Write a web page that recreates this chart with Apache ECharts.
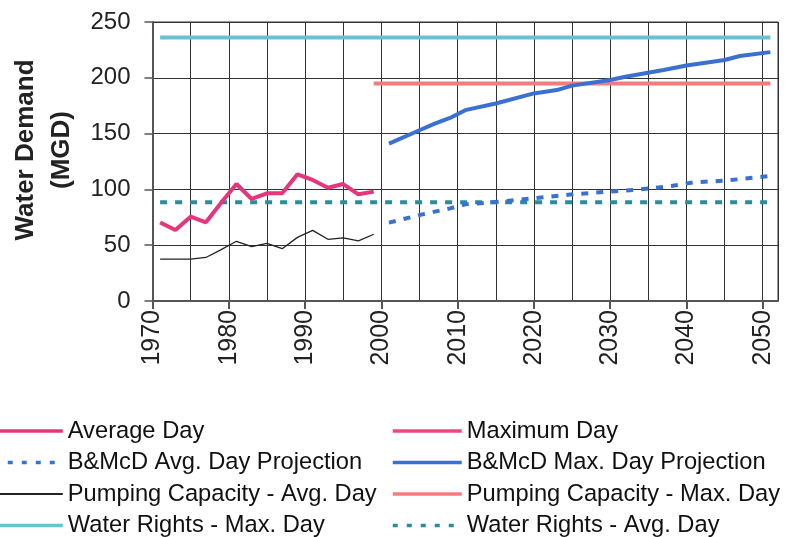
<!DOCTYPE html>
<html>
<head>
<meta charset="utf-8">
<title>Water Demand (MGD)</title>
<script src="https://cdn.jsdelivr.net/npm/echarts@6/dist/echarts.min.js"></script>
<style>
  html, body { margin: 0; padding: 0; background: #fff; }
  #chart { width: 786px; height: 537px; }
</style>
</head>
<body>
<div id="chart"></div>
<script>
// Historic records (odd years)
const histYears = [1971, 1973, 1975, 1977, 1979, 1981, 1983, 1985, 1987, 1989, 1991, 1993, 1995, 1997, 1999];
const averageDay = [70.3, 63.6, 75.5, 70.5, 88, 104.8, 91.4, 96.5, 96.5, 113.5, 108.5, 101.5, 104.8, 95.6, 98];
const pumpingAvgDay = [37.6, 37.6, 37.6, 39, 46, 53.5, 48.7, 51.7, 46.9, 57, 63.3, 55.3, 56.5, 53.8, 59.8];
const maximumDay = [];

// B&McD projections
const maxProjYears = [2001, 2005, 2007, 2009, 2011, 2015, 2020, 2023, 2025, 2030, 2032, 2037, 2040, 2045, 2047, 2051];
const maxDayProjection = [141, 153, 159, 164, 171, 177, 186, 189, 193, 198, 201, 207, 211, 216, 219.5, 223];
const avgProjYears = [2001, 2005, 2009, 2011, 2013, 2020, 2025, 2030, 2034, 2038, 2041, 2045, 2051];
const avgDayProjection = [70.2, 77, 83, 86.6, 87.5, 92, 95.6, 98, 100, 103, 106.4, 107.8, 112];

// Capacity and rights limits
const pumpingMaxDay = { from: 1999, to: 2051, value: 195 };
const rightsMaxDay = { from: 1971, to: 2051, value: 236 };
const rightsAvgDay = { from: 1971, to: 2051, value: 88.5 };

// Axis ticks
const yearTicks = [1970, 1980, 1990, 2000, 2010, 2020, 2030, 2040, 2050];
const demandTicks = [0, 50, 100, 150, 200, 250];

// Legend columns
const legendLeft = ['Average Day', 'B&McD Avg. Day Projection', 'Pumping Capacity - Avg. Day', 'Water Rights - Max. Day'];
const legendRight = ['Maximum Day', 'B&McD Max. Day Projection', 'Pumping Capacity - Max. Day', 'Water Rights - Avg. Day'];

const pairs = (xs, ys) => xs.map((x, i) => [x, ys[i]]);
const flat = (l) => [[l.from, l.value], [l.to, l.value]];

const FONT = 'Liberation Sans, Arial, Helvetica, sans-serif';

const chart = echarts.init(document.getElementById('chart'), null, { renderer: 'canvas' });

const styles = {};
function line(name, data, color, width, dashed, z) {
  styles[name] = { width: width, dashed: dashed, color: color };
  return {
    name: name,
    type: 'line',
    data: data,
    xAxisIndex: 0,
    symbol: 'none',
    z: z,
    color: color,
    lineStyle: dashed
      ? { color: color, width: width, type: [7, 8], cap: 'butt' }
      : { color: color, width: width },
    emphasis: { disabled: true }
  };
}

const series = [
  line('Water Rights - Max. Day', flat(rightsMaxDay), '#6cc0cf', 4, false, 2),
  line('Pumping Capacity - Max. Day', flat(pumpingMaxDay), '#f47c7c', 4, false, 2),
  line('Water Rights - Avg. Day', flat(rightsAvgDay), '#2a8c9c', 4, true, 2),
  line('Pumping Capacity - Avg. Day', pairs(histYears, pumpingAvgDay), '#222', 1.3, false, 3),
  line('Maximum Day', pairs([], maximumDay), '#f0487c', 4, false, 3),
  line('Average Day', pairs(histYears, averageDay), '#e6357a', 4, false, 4),
  line('B&McD Avg. Day Projection', pairs(avgProjYears, avgDayProjection), '#3a70d2', 4, true, 4),
  line('B&McD Max. Day Projection', pairs(maxProjYears, maxDayProjection), '#3a70d2', 4, false, 4)
];

// Legend icons: plain line strokes, no point marker
const legendItem = (name) => {
  const s = styles[name];
  return {
    name: name,
    itemStyle: { opacity: 0 },
    lineStyle: {
      color: s.color,
      width: s.width < 2 ? 2 : 3.5,
      type: s.dashed ? [5, 9] : 'solid',
      cap: 'butt'
    }
  };
};

const legendText = { color: '#111', fontFamily: FONT, fontSize: 23.7, lineHeight: 24 };
const legendBase = {
  orient: 'vertical', top: 419, padding: 0, height: 200,
  itemWidth: 69, itemHeight: 14, itemGap: 7.5,
  textStyle: legendText, selectedMode: false,
  itemStyle: { opacity: 0 }
};

chart.setOption({
  animation: false,
  backgroundColor: '#fff',
  grid: {
    left: 152.5, right: 8, top: 22, bottom: 236,
    show: true, borderColor: '#333', borderWidth: 1, backgroundColor: 'transparent'
  },
  xAxis: [
    {
      // 5-year gridlines
      type: 'value', min: 1970, max: 2052, interval: 5,
      axisLine: { show: false },
      axisTick: { show: false },
      axisLabel: { show: false },
      splitLine: { show: true, lineStyle: { color: '#333', width: 1 } }
    },
    {
      // decade ticks and labels
      type: 'value', min: 1970, max: 2052, interval: 10,
      position: 'bottom',
      axisLine: { show: true, onZero: false, lineStyle: { color: '#555', width: 2 } },
      axisTick: { show: true, length: 8, customValues: yearTicks, lineStyle: { color: '#555', width: 2 } },
      axisLabel: {
        customValues: yearTicks,
        rotate: 90, margin: 9,
        color: '#222', fontFamily: FONT, fontSize: 25,
        formatter: (v) => String(v)
      },
      splitLine: { show: false }
    }
  ],
  yAxis: {
    type: 'value', min: 0, max: 250, interval: 50,
    axisLine: { show: true, lineStyle: { color: '#555', width: 2 } },
    axisTick: { show: true, length: 8, lineStyle: { color: '#555', width: 1.5 } },
    axisLabel: {
      customValues: demandTicks,
      margin: 22, color: '#222', fontFamily: FONT, fontSize: 24
    },
    splitLine: { show: true, lineStyle: { color: '#333', width: 1 } }
  },
  graphic: [
    {
      type: 'text', x: 44, y: 150, rotation: Math.PI / 2,
      style: {
        text: 'Water Demand\n(MGD)',
        fill: '#222', font: 'bold 26px ' + FONT,
        lineHeight: 36, align: 'center', verticalAlign: 'middle'
      }
    }
  ],
  legend: [
    Object.assign({}, legendBase, { left: -8, data: legendLeft.map(legendItem) }),
    Object.assign({}, legendBase, { left: 391, data: legendRight.map(legendItem) })
  ],
  series: series
});
</script>
</body>
</html>
